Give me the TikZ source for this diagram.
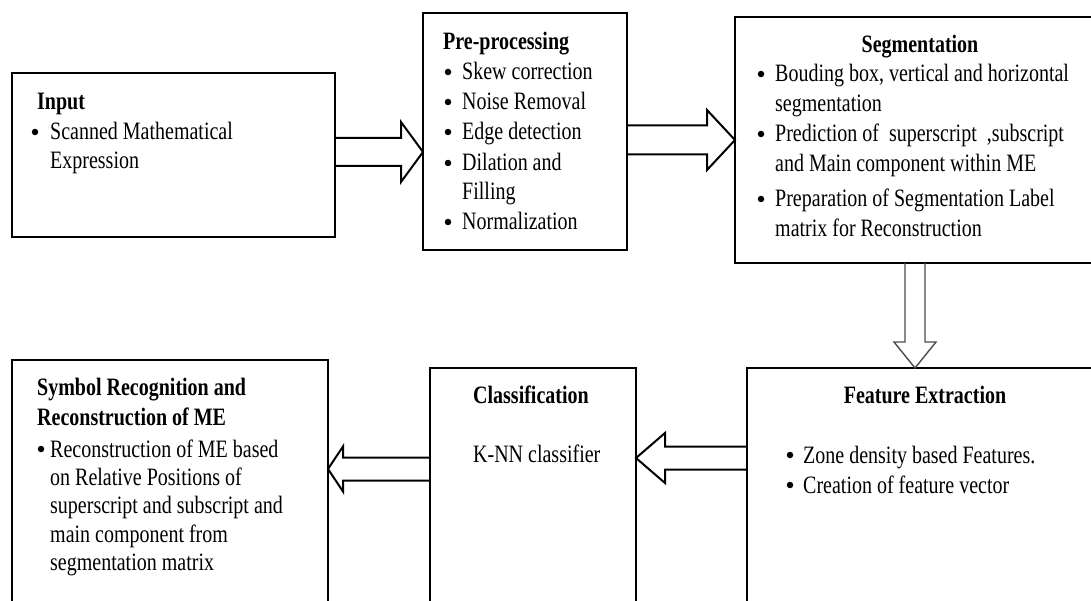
\documentclass[tikz,border=0pt]{standalone}
\usepackage{fontspec}
\setmainfont{Liberation Serif}[FakeStretch=0.8]
\usetikzlibrary{calc}
\tikzset{
  box/.style={draw=black, line width=2.4pt, anchor=north west, inner sep=0pt, outer sep=0pt},
  txt/.style={anchor=base west, inner sep=0pt, font=\fontsize{25}{30}\selectfont},
  ttl/.style={anchor=base west, inner sep=0pt, font=\fontsize{25}{30}\selectfont\bfseries},
  ttlc/.style={anchor=base, inner sep=0pt, font=\fontsize{25}{30}\selectfont\bfseries},
  bul/.style={circle, fill=black, inner sep=0pt, minimum size=6.5pt, yshift=8pt},
  blockarrow/.style={draw=black, line width=2pt, line join=miter},
  blockarrowgray/.style={draw=black!70, line width=1.4pt, line join=miter}
}
\begin{document}
\begin{tikzpicture}[x=1pt,y=-1pt]
\useasboundingbox (0,0) rectangle (1091,601);
\clip (0,0) rectangle (1091,601);
% boxes
\node[box, minimum width=323pt, minimum height=164pt] (inp) at (12,73) {};
\node[box, minimum width=204pt, minimum height=237pt] (pre) at (423,13) {};
\node[box, minimum width=380pt, minimum height=246pt] (seg) at (735,17) {};
\node[box, minimum width=380pt, minimum height=260pt] (fea) at (747,368) {};
\node[box, minimum width=206pt, minimum height=260pt] (cla) at (430,368) {};
\node[box, minimum width=316pt, minimum height=268pt] (sym) at (12,360) {};
% Input text
\node[ttl] (t1) at (37,110) {Input};
\node[bul] (b1a) at (35,140) {};
\node[txt] (t1a) at (50,140) {Scanned Mathematical};
\node[txt] (t1b) at (50,169) {Expression};
% Pre-processing text
\node[ttl] (t2) at (443,50) {Pre-processing};
\node[bul] (b2a) at (448,80) {};
\node[txt] (t2a) at (462,80) {Skew correction};
\node[bul] (b2b) at (448,110) {};
\node[txt] (t2b) at (462,110) {Noise Removal};
\node[bul] (b2c) at (448,140) {};
\node[txt] (t2c) at (462,140) {Edge detection};
\node[bul] (b2d) at (448,171) {};
\node[txt] (t2d) at (462,171) {Dilation and};
\node[txt] (t2e) at (462,200) {Filling};
\node[bul] (b2f) at (448,230) {};
\node[txt] (t2f) at (462,230) {Normalization};
% Segmentation text
\node[ttlc] (t3) at (920,53) {Segmentation};
\node[bul] (b3a) at (761,82) {};
\node[txt] (t3a) at (775,82) {Bouding box, vertical and horizontal};
\node[txt] (t3b) at (775,112) {segmentation};
\node[bul] (b3c) at (761,142) {};
\node[txt] (t3c) at (775,142) {Prediction of\ \ superscript\ \ ,subscript};
\node[txt] (t3d) at (775,172) {and Main component within ME};
\node[bul] (b3e) at (761,207) {};
\node[txt] (t3e) at (775,207) {Preparation of Segmentation Label};
\node[txt] (t3f) at (775,237) {matrix for Reconstruction};
% Feature extraction text
\node[ttlc] (t4) at (925,403) {Feature Extraction};
\node[bul] (b4a) at (790,463) {};
\node[txt] (t4a) at (803,463) {Zone density based Features.};
\node[bul] (b4b) at (790,493) {};
\node[txt] (t4b) at (803,493) {Creation of feature vector};
% Classification text
\node[ttl] (t5) at (473,403) {Classification};
\node[txt] (t5a) at (473,462) {K-NN classifier};
% Symbol recognition text
\node[ttl] (t6) at (37,395) {Symbol Recognition and};
\node[ttl] (t6b) at (37,425) {Reconstruction of ME};
\node[bul] (b6a) at (41,457) {};
\node[txt] (t6c) at (50,457) {Reconstruction of ME based};
\node[txt] (t6d) at (50,485) {on Relative Positions of};
\node[txt] (t6e) at (50,513) {superscript and subscript and};
\node[txt] (t6f) at (50,542) {main component from};
\node[txt] (t6g) at (50,570) {segmentation matrix};
% arrow centre lines
\coordinate (c1) at (0,152);
\coordinate (c2) at (0,140);
\coordinate (c3) at (915,0);
\coordinate (c4) at (0,458);
\coordinate (c5) at (0,469);
% Input -> Pre-processing
\draw[blockarrow]
  ($(inp.east|-c1)+(0,-14)$) -- ($(pre.west|-c1)+(-22,-14)$) -- ($(pre.west|-c1)+(-22,-30)$)
  -- (pre.west|-c1) -- ($(pre.west|-c1)+(-22,30)$) -- ($(pre.west|-c1)+(-22,14)$) -- ($(inp.east|-c1)+(0,14)$);
% Pre-processing -> Segmentation
\draw[blockarrow]
  ($(pre.east|-c2)+(0,-14.5)$) -- ($(seg.west|-c2)+(-28,-14.5)$) -- ($(seg.west|-c2)+(-28,-30)$)
  -- (seg.west|-c2) -- ($(seg.west|-c2)+(-28,30)$) -- ($(seg.west|-c2)+(-28,14.5)$) -- ($(pre.east|-c2)+(0,14.5)$);
% Segmentation -> Feature extraction
\draw[blockarrowgray]
  ($(c3|-seg.south)+(-10,0)$) -- ($(c3|-fea.north)+(-10,-26)$) -- ($(c3|-fea.north)+(-21,-26)$)
  -- (c3|-fea.north) -- ($(c3|-fea.north)+(21,-26)$) -- ($(c3|-fea.north)+(10,-26)$) -- ($(c3|-seg.south)+(10,0)$);
% Feature extraction -> Classification
\draw[blockarrow]
  ($(fea.west|-c4)+(0,-11.5)$) -- ($(cla.east|-c4)+(29,-11.5)$) -- ($(cla.east|-c4)+(29,-25)$)
  -- (cla.east|-c4) -- ($(cla.east|-c4)+(29,25)$) -- ($(cla.east|-c4)+(29,11.5)$) -- ($(fea.west|-c4)+(0,11.5)$);
% Classification -> Symbol recognition
\draw[blockarrow]
  ($(cla.west|-c5)+(0,-11.5)$) -- ($(sym.east|-c5)+(15,-11.5)$) -- ($(sym.east|-c5)+(15,-22.5)$)
  -- (sym.east|-c5) -- ($(sym.east|-c5)+(15,22.5)$) -- ($(sym.east|-c5)+(15,11.5)$) -- ($(cla.west|-c5)+(0,11.5)$);
\end{tikzpicture}
\end{document}
